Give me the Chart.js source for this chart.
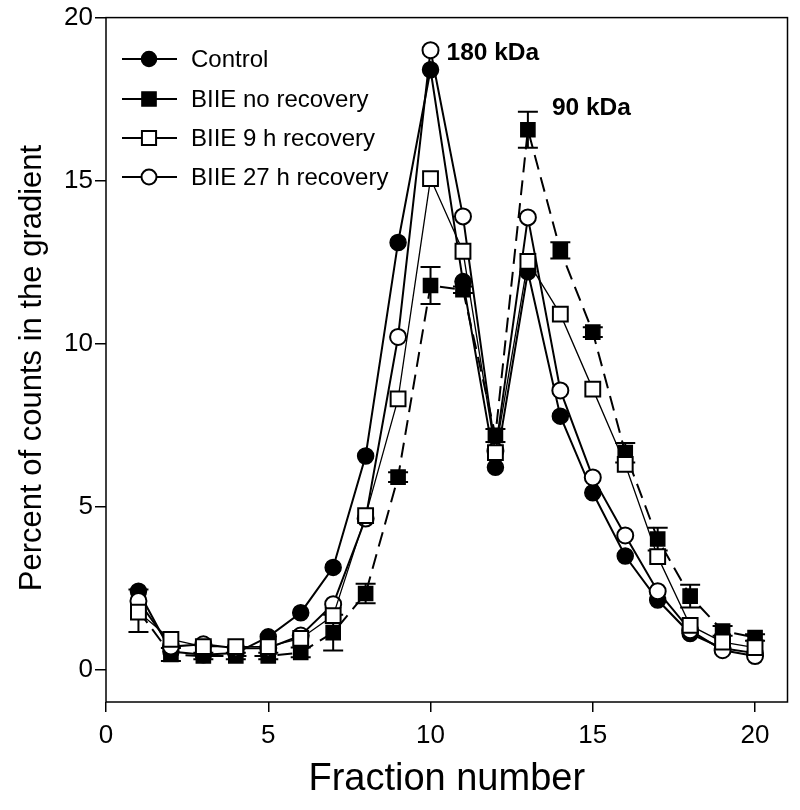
<!DOCTYPE html>
<html lang="en">
<head>
    <meta charset="UTF-8">
    <title>Percent of counts in the gradient</title>
    <script src="https://cdn.jsdelivr.net/npm/chart.js"></script>
    <style>
        body {
            margin: 0;
            padding: 0;
            background: #ffffff;
        }

        .chart-box {
            width: 800px;
            height: 810px;
        }
    </style>
</head>
<body>
    <div class="chart-box">
        <canvas id="gradientChart"></canvas>
    </div>

    <script>
        // Fractions along the gradient
        const fractions = [1, 2, 3, 4, 5, 6, 7, 8, 9, 10, 11, 12, 13, 14, 15, 16, 17, 18, 19, 20];

        // Percent of counts per fraction
        const control = [2.4, 0.55, 0.45, 0.5, 1.0, 1.74, 3.13, 6.55, 13.1, 18.4, 11.9, 6.2, 12.2, 7.77, 5.42, 3.48, 2.13, 1.1, 0.65, 0.5];
        const noRecovery = [1.8, 0.46, 0.41, 0.41, 0.41, 0.52, 1.13, 2.33, 5.9, 11.78, 11.65, 7.18, 16.56, 12.86, 10.35, 6.65, 4.0, 2.25, 1.18, 0.98];
        const noRecoveryErr = [0.65, 0.2, 0.1, 0.1, 0.1, 0.15, 0.55, 0.3, 0.15, 0.57, 0.1, 0.2, 0.55, 0.25, 0.15, 0.3, 0.35, 0.35, 0.15, 0.1];
        const recovery9h = [1.76, 0.92, 0.7, 0.7, 0.7, 0.95, 1.65, 4.72, 8.3, 15.06, 12.83, 6.65, 12.52, 10.9, 8.6, 6.29, 3.46, 1.35, 0.84, 0.67];
        const recovery27h = [2.1, 0.7, 0.77, 0.65, 0.65, 1.04, 2.0, 4.63, 10.2, 19.0, 13.9, 6.7, 13.87, 8.56, 5.89, 4.11, 2.4, 1.2, 0.59, 0.41];

        const xTicks = [0, 5, 10, 15, 20];
        const yTicks = [0, 5, 10, 15, 20];
        const seriesNames = ["Control", "BIIE no recovery", "BIIE 9 h recovery", "BIIE 27 h recovery"];

        const FONT = "'Liberation Sans', Arial, sans-serif";

        function toPoints(values) {
            return values.map((v, i) => ({ x: fractions[i], y: v }));
        }

        const datasets = [
            {
                label: seriesNames[0],
                data: toPoints(control),
                borderColor: "#000", borderWidth: 2,
                pointStyle: "circle", pointRadius: 8,
                pointBackgroundColor: "#000", pointBorderColor: "#000", pointBorderWidth: 1.5,
                order: 3
            },
            {
                label: seriesNames[1],
                data: toPoints(noRecovery),
                borderColor: "#000", borderWidth: 2, borderDash: [15, 8],
                pointStyle: "rect", pointRadius: 10,
                pointBackgroundColor: "#000", pointBorderColor: "#000", pointBorderWidth: 1.5,
                order: 4
            },
            {
                label: seriesNames[2],
                data: toPoints(recovery9h),
                borderColor: "#000", borderWidth: 1.3,
                pointStyle: "rect", pointRadius: 10.5,
                pointBackgroundColor: "#fff", pointBorderColor: "#000", pointBorderWidth: 2,
                order: 1
            },
            {
                label: seriesNames[3],
                data: toPoints(recovery27h),
                borderColor: "#000", borderWidth: 2,
                pointStyle: "circle", pointRadius: 8,
                pointBackgroundColor: "#fff", pointBorderColor: "#000", pointBorderWidth: 2,
                order: 2
            }
        ];

        // Error bars for the "no recovery" series, drawn under the markers
        const errorBars = {
            id: "errorBars",
            beforeDatasetsDraw(chart) {
                const ctx = chart.ctx;
                const xs = chart.scales.x, ys = chart.scales.y;
                ctx.save();
                ctx.strokeStyle = "#000";
                ctx.lineWidth = 2;
                noRecovery.forEach((v, i) => {
                    const x = xs.getPixelForValue(fractions[i]);
                    const top = ys.getPixelForValue(v + noRecoveryErr[i]);
                    const bot = ys.getPixelForValue(v - noRecoveryErr[i]);
                    ctx.beginPath();
                    ctx.moveTo(x, top); ctx.lineTo(x, bot);
                    ctx.moveTo(x - 10, top); ctx.lineTo(x + 10, top);
                    ctx.moveTo(x - 10, bot); ctx.lineTo(x + 10, bot);
                    ctx.stroke();
                });
                ctx.restore();
            }
        };

        // Frame, axis title on the left, legend and peak labels
        const decorations = {
            id: "decorations",
            afterDraw(chart) {
                const ctx = chart.ctx;
                const a = chart.chartArea;
                const xs = chart.scales.x, ys = chart.scales.y;
                ctx.save();

                ctx.strokeStyle = "#000";
                ctx.lineWidth = 1.5;
                ctx.strokeRect(a.left, a.top, a.right - a.left, a.bottom - a.top);

                // y axis title
                ctx.save();
                ctx.translate(32, 368);
                ctx.rotate(-Math.PI / 2);
                ctx.font = "31px " + FONT;
                ctx.fillStyle = "#000";
                ctx.textAlign = "center";
                ctx.textBaseline = "middle";
                ctx.fillText("Percent of counts in the gradient", 0, 0);
                ctx.restore();

                // legend inside plot, top left
                const rowY = [59, 99, 138, 177];
                datasets.forEach((ds, i) => {
                    const y = rowY[i];
                    ctx.setLineDash([]);
                    ctx.lineWidth = 2;
                    ctx.strokeStyle = "#000";
                    ctx.beginPath();
                    ctx.moveTo(122, y); ctx.lineTo(177, y);
                    ctx.stroke();
                    ctx.fillStyle = ds.pointBackgroundColor;
                    ctx.lineWidth = ds.pointBorderWidth;
                    Chart.helpers.drawPoint(ctx, {
                        pointStyle: ds.pointStyle,
                        radius: ds.pointStyle === "rect" ? 10 : 7.5,
                        rotation: 0,
                        borderWidth: ds.pointBorderWidth
                    }, 149, y);
                    ctx.fillStyle = "#000";
                    ctx.font = "24px " + FONT;
                    ctx.textBaseline = "middle";
                    ctx.textAlign = "left";
                    ctx.fillText(ds.label, 191, y + 1);
                });

                // peak labels
                ctx.font = "bold 24.5px " + FONT;
                ctx.fillStyle = "#000";
                ctx.textBaseline = "middle";
                ctx.fillText("180 kDa", xs.getPixelForValue(10) + 16, ys.getPixelForValue(recovery27h[9]) + 3);
                ctx.fillText("90 kDa", xs.getPixelForValue(13) + 24,
                    ys.getPixelForValue(noRecovery[12] + noRecoveryErr[12]) - 4);
                ctx.restore();
            }
        };

        const ctx = document.getElementById("gradientChart").getContext("2d");
        const chart = new Chart(ctx, {
            type: "line",
            data: { datasets: datasets },
            options: {
                responsive: true,
                maintainAspectRatio: false,
                animation: false,
                layout: { padding: { left: 0, top: 17, right: 9, bottom: 0 } },
                plugins: {
                    legend: { display: false },
                    tooltip: { enabled: false }
                },
                scales: {
                    x: {
                        type: "linear",
                        min: 0, max: 21,
                        afterBuildTicks: scale => { scale.ticks = xTicks.map(v => ({ value: v })); },
                        afterFit: scale => { scale.height = 108; },
                        grid: { drawOnChartArea: false, drawTicks: true, tickLength: 10, color: "#000", lineWidth: 1.5 },
                        border: { display: false },
                        ticks: { color: "#000", padding: 8, maxRotation: 0, font: { family: FONT, size: 26 } },
                        title: {
                            display: true, text: "Fraction number", color: "#000",
                            font: { family: FONT, size: 38 }, padding: { top: 0, bottom: 8 }
                        }
                    },
                    y: {
                        type: "linear",
                        min: -1, max: 20,
                        afterBuildTicks: scale => { scale.ticks = yTicks.map(v => ({ value: v })); },
                        afterFit: scale => { scale.width = 106; },
                        grid: { drawOnChartArea: false, drawTicks: true, tickLength: 11, color: "#000", lineWidth: 1.5 },
                        border: { display: false },
                        ticks: { color: "#000", padding: 2, font: { family: FONT, size: 26 } },
                        title: { display: false }
                    }
                }
            },
            plugins: [errorBars, decorations]
        });
    </script>
</body>
</html>
